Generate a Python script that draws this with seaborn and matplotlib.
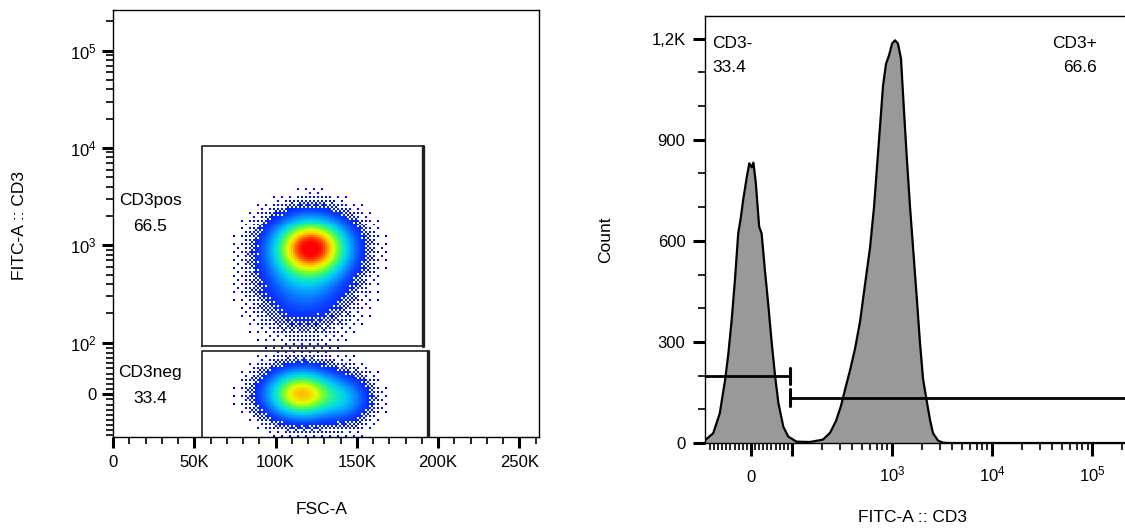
import numpy as np
import matplotlib
matplotlib.use("Agg")
import matplotlib.pyplot as plt
from matplotlib.colors import LinearSegmentedColormap, PowerNorm
from matplotlib.ticker import FixedLocator, FixedFormatter, NullFormatter
import seaborn as sns

# ---------------- data ----------------
# FSC-A vs FITC-A :: CD3 cell populations (centre, spread, share of events)
pop_fsc = [122000, 118000, 116000, 143000]
pop_cd3 = [950, 420, 0, -10]
pop_fsc_sd = [14500, 17000, 13500, 10000]
pop_cd3_sd = [0.19, 0.28, 0.155, 0.15]      # spread in display decades
pop_share = [0.47, 0.18, 0.29, 0.06]

# rectangular gates on the dot plot: (FSC lo, FSC hi, CD3 lo, CD3 hi)
gate_names = ["CD3pos", "CD3neg"]
gate_pct = ["66.5", "33.4"]
gate_fsc = [(55000, 190500), (55000, 194000)]
gate_cd3 = [(93, 10570), (-400, 83)]

# CD3 histogram
hist_fitc = [-112, -92, -76, -63, -55, -47, -39, -31, -25, -19, -10, -4, 2, 6, 12,
             20, 26, 34, 42, 50, 59, 67, 79, 91, 111, 151, 204, 240, 275, 309,
             347, 380, 427, 479, 537, 603, 661, 708, 759, 813, 871, 933, 1000, 1072,
             1148, 1230, 1303, 1396, 1514, 1641, 1778, 1905, 2042, 2213, 2399,
             2570, 2884, 3236, 3715, 262144]
hist_count = [8, 29, 88, 187, 266, 365, 484, 622, 666, 721, 790, 830, 818, 832, 770,
              642, 622, 513, 414, 305, 197, 118, 48, 19, 4, 3, 10, 30, 65, 110,
              170, 215, 280, 360, 470, 580, 700, 820, 940, 1060, 1125, 1150, 1185, 1195,
              1185, 1140, 1010, 860, 700, 560, 420, 296, 190, 128, 68,
              29, 7, 1, 0, 0]

# histogram range gates: (lo, hi, drawn at count), label, percent
hgate_names = ["CD3-", "CD3+"]
hgate_pct = ["33.4", "66.6"]
hgate_range = [(-300, 95), (95, 400000)]
hgate_level = [199, 134]

# tick labels
fsc_ticks = [0, 50000, 100000, 150000, 200000, 250000]
fsc_labels = ["0", "50K", "100K", "150K", "200K", "250K"]
log_ticks = [0, 100, 1000, 10000, 100000]
log_labels = ["0", r"$\mathregular{10^{2}}$", r"$\mathregular{10^{3}}$",
              r"$\mathregular{10^{4}}$", r"$\mathregular{10^{5}}$"]
count_ticks = [0, 300, 600, 900, 1200]
count_labels = ["0", "300", "600", "900", "1,2K"]

# ---------------- style ----------------
sns.set_style("ticks")
plt.rcParams["font.family"] = ["Liberation Sans", "DejaVu Sans"]
plt.rcParams["mathtext.fontset"] = "custom"
plt.rcParams["mathtext.rm"] = "Liberation Sans"
for key in ("text.color", "axes.labelcolor", "xtick.color", "ytick.color"):
    plt.rcParams[key] = "black"
TICK_FS = 12
LABEL_FS = 12.5
GATE_FS = 12.5

fig = plt.figure(figsize=(11.25, 5.29), dpi=100)
W, H = 1125, 529
ax1 = fig.add_axes([113 / W, 1 - 437 / H, 426 / W, 427 / H])
ax2 = fig.add_axes([705 / W, 1 - 443 / H, 429 / W, 427.3 / H])

for ax in (ax1, ax2):
    for s in ax.spines.values():
        s.set_color("black")
        s.set_linewidth(1.0)
    ax.spines["top"].set_visible(True)
    ax.spines["right"].set_visible(True)


def log_minor(lo, hi):
    vals = [v for v in range(-90, 100, 10) if v != 0]
    for dec in (100, 1000, 10000, 100000):
        vals += [m * dec for m in range(2, 10)]
    return [v for v in vals if lo < v < hi]


# ---------------- dot plot (pseudocolor density) ----------------
ax1.set_yscale("symlog", linthresh=100, linscale=0.477)
ax1.set_xlim(0, 262144)
ax1.set_ylim(-83, 262144)

ty = ax1.yaxis.get_transform()
decade = float(np.diff(ty.transform(np.array([1000.0, 10000.0])))[0])
t_lo, t_hi = ty.transform(np.array([-83.0, 262144.0]))
nx, ny = 213, 214
x_edges = np.linspace(0, 262144, nx + 1)
t_edges = np.linspace(t_lo, t_hi, ny + 1)
y_edges = ty.inverted().transform(t_edges)
xc = 0.5 * (x_edges[:-1] + x_edges[1:])
tc = 0.5 * (t_edges[:-1] + t_edges[1:])
X, T = np.meshgrid(xc, tc)

dens = np.zeros_like(X)
for fsc, cd3, sx, sy, w in zip(pop_fsc, pop_cd3, pop_fsc_sd, pop_cd3_sd, pop_share):
    t0 = ty.transform(np.array([float(cd3)]))[0]
    sy_t = sy * decade
    dens += w / (sx * sy) * np.exp(-0.5 * ((X - fsc) / sx) ** 2 - 0.5 * ((T - t0) / sy_t) ** 2)
dens /= dens.max()

# ordered dithering for the sparse outer events
bayer = (np.array([[0, 8, 2, 10], [12, 4, 14, 6], [3, 11, 1, 9], [15, 7, 13, 5]]) + 0.5) / 16
tile = np.tile(bayer, (ny // 4 + 1, nx // 4 + 1))[:ny, :nx]
lo, hi = 0.002, 0.10
visible = dens > lo + (hi - lo) * tile
dens_masked = np.ma.masked_where(~visible, dens)

pseudo = LinearSegmentedColormap.from_list(
    "pseudo",
    ["#0000ff", "#0a3cff", "#0a8cff", "#00d2f0", "#20f0a0", "#70ff30",
     "#e6ff00", "#ffc000", "#ff5000", "#ff0000"])
ax1.pcolormesh(x_edges, y_edges, dens_masked, cmap=pseudo,
               norm=PowerNorm(gamma=1.0, vmin=0.0, vmax=0.95), shading="flat",
               rasterized=True, zorder=1)

for (x0, x1), (y0, y1) in zip(gate_fsc, gate_cd3):
    ax1.plot([x0, x0, x1, x1, x0], [y0, y1, y1, y0, y0], color="#202020", lw=1.2,
             zorder=3, clip_on=True)
    ax1.plot([x1, x1], [y0, y1], color="#202020", lw=2.4, zorder=3)

gate_text_y = [(0.555, 0.494), (0.150, 0.091)]
for name, pct, (ya, yb) in zip(gate_names, gate_pct, gate_text_y):
    ax1.text(0.087, ya, name, transform=ax1.transAxes, ha="center", va="center",
             fontsize=GATE_FS)
    ax1.text(0.087, yb, pct, transform=ax1.transAxes, ha="center", va="center",
             fontsize=GATE_FS)

ax1.xaxis.set_major_locator(FixedLocator(fsc_ticks))
ax1.xaxis.set_major_formatter(FixedFormatter(fsc_labels))
ax1.xaxis.set_minor_locator(FixedLocator([v for v in range(10000, 262144, 10000)
                                          if v % 50000]))
ax1.yaxis.set_major_locator(FixedLocator(log_ticks))
ax1.yaxis.set_major_formatter(FixedFormatter(log_labels))
ax1.yaxis.set_minor_locator(FixedLocator(log_minor(-83, 262144)))
ax1.yaxis.set_minor_formatter(NullFormatter())
ax1.tick_params(axis="both", which="major", length=8, width=2.2, color="black",
                labelsize=TICK_FS)
ax1.tick_params(axis="both", which="minor", length=5, width=1.2, color="black")
ax1.tick_params(axis="x", which="major", pad=5)
ax1.tick_params(axis="y", which="major", pad=4)
ax1.set_xlabel("")
ax1.set_ylabel("")

# ---------------- histogram ----------------
ax2.set_xscale("symlog", linthresh=100, linscale=0.369)
ax2.set_xlim(-112, 262144)
ax2.set_ylim(0, 1268)
ax2.fill_between(hist_fitc, hist_count, 0, color="#999999", lw=0, zorder=1)
sns.lineplot(x=hist_fitc, y=hist_count, ax=ax2, color="black", lw=1.6,
             sort=False, estimator=None, zorder=2)

bar_half = 25
for (x0, x1), lvl, end in zip(hgate_range, hgate_level, ["right", "left"]):
    ax2.plot([x0, x1], [lvl, lvl], color="black", lw=2.0, zorder=3)
    xb = x1 if end == "right" else x0
    ax2.plot([xb, xb], [lvl - bar_half, lvl + bar_half], color="black", lw=2.2, zorder=3)

ax2.text(0.017, 0.936, hgate_names[0], transform=ax2.transAxes, ha="left",
         va="center", fontsize=GATE_FS)
ax2.text(0.017, 0.878, hgate_pct[0], transform=ax2.transAxes, ha="left",
         va="center", fontsize=GATE_FS)
ax2.text(0.914, 0.936, hgate_names[1], transform=ax2.transAxes, ha="right",
         va="center", fontsize=GATE_FS)
ax2.text(0.914, 0.878, hgate_pct[1], transform=ax2.transAxes, ha="right",
         va="center", fontsize=GATE_FS)

ax2.xaxis.set_major_locator(FixedLocator(log_ticks))
ax2.xaxis.set_major_formatter(FixedFormatter(["0", ""] + log_labels[2:]))
ax2.xaxis.set_minor_locator(FixedLocator(log_minor(-112, 262144) + [-100]))
ax2.xaxis.set_minor_formatter(NullFormatter())
ax2.yaxis.set_major_locator(FixedLocator(count_ticks))
ax2.yaxis.set_major_formatter(FixedFormatter(count_labels))
ax2.yaxis.set_minor_locator(FixedLocator([100, 200, 400, 500, 700, 800, 1000, 1100]))
ax2.tick_params(axis="both", which="major", length=9, width=2.2, color="black",
                labelsize=TICK_FS)
ax2.tick_params(axis="both", which="minor", length=5, width=1.2, color="black")
ax2.tick_params(axis="x", which="major", pad=19)
ax2.tick_params(axis="y", which="major", pad=5)
plt.setp(ax2.get_xticklabels(), va="baseline")
ax2.set_xlabel("")
ax2.set_ylabel("")

# ---------------- axis titles ----------------
fig.text(20 / W, 1 - 225 / H, "FITC-A :: CD3", rotation=90, ha="center",
         va="center", fontsize=LABEL_FS)
fig.text(322 / W, 1 - 510 / H, "FSC-A", ha="center", va="center", fontsize=LABEL_FS)
fig.text(606 / W, 1 - 240 / H, "Count", rotation=90, ha="center", va="center",
         fontsize=LABEL_FS)
fig.text(912 / W, 1 - 518 / H, "FITC-A :: CD3", ha="center", va="center",
         fontsize=LABEL_FS)

fig.savefig("out.png", dpi=100)
